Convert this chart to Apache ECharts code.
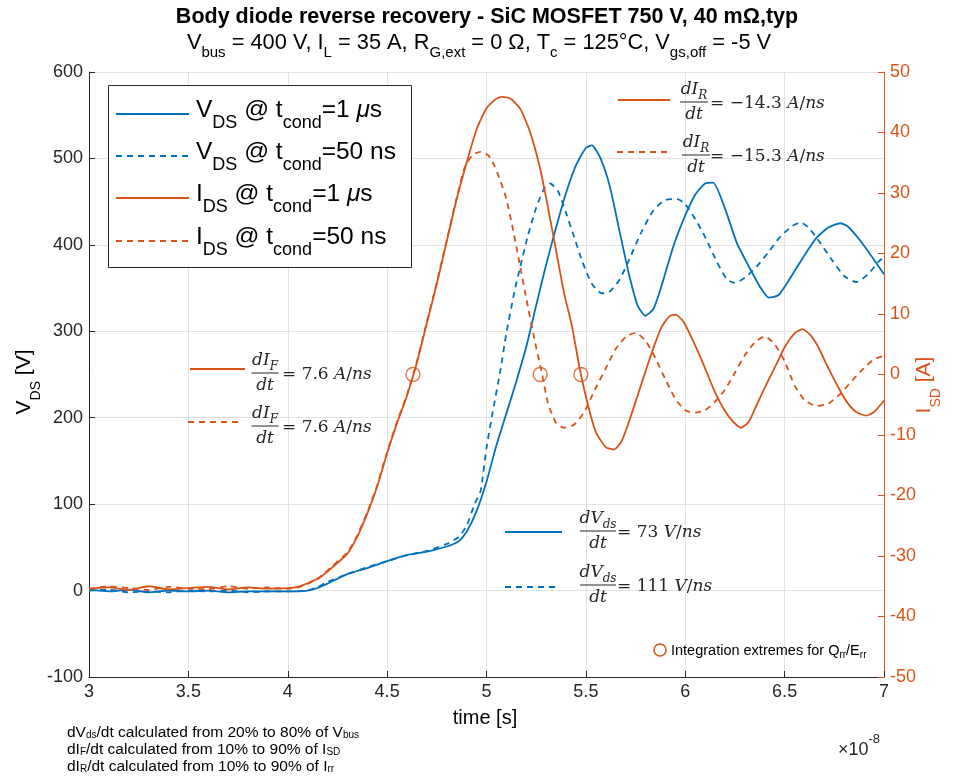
<!DOCTYPE html>
<html>
<head>
<meta charset="utf-8">
<script src="https://cdn.jsdelivr.net/npm/echarts@6/dist/echarts.min.js"></script>
<style>
  html, body { margin: 0; padding: 0; background: #fff; }
  #chart { width: 956px; height: 780px; }
</style>
</head>
<body>
<div id="chart"></div>
<script>
// time values are in units of 1e-8 s (axis shows x10^-8)
const tVdsLong = [3.0, 3.1, 3.2, 3.3, 3.4, 3.5, 3.6, 3.7, 3.8, 3.9, 4.0, 4.1, 4.15, 4.2, 4.3, 4.4, 4.5, 4.6, 4.7, 4.8, 4.86, 4.9, 4.95, 5.0, 5.05, 5.1, 5.15, 5.2, 5.25, 5.3, 5.35, 5.4, 5.45, 5.5, 5.53, 5.57, 5.62, 5.67, 5.72, 5.76, 5.8, 5.84, 5.88, 5.94, 6.0, 6.05, 6.1, 6.14, 6.2, 6.26, 6.32, 6.38, 6.42, 6.47, 6.54, 6.6, 6.66, 6.72, 6.78, 6.82, 6.88, 6.94, 7.0]
const vdsLong = [1, -1, 1, -2, 0, -1, 0, -2, -1, -1, -1, 0, 3, 8, 19, 26, 34, 41, 45, 51, 57, 68, 92, 126, 168, 205, 242, 282, 330, 377, 420, 460, 492, 512, 515, 502, 468, 415, 363, 330, 318, 326, 352, 398, 434, 458, 471, 472, 442, 402, 375, 350, 339, 342, 366, 388, 408, 420, 425, 421, 405, 386, 366]

const tVdsShort = [3.0, 3.1, 3.2, 3.3, 3.4, 3.5, 3.6, 3.7, 3.8, 3.9, 4.0, 4.1, 4.15, 4.2, 4.3, 4.4, 4.5, 4.6, 4.7, 4.8, 4.86, 4.9, 4.94, 4.97, 5.0, 5.03, 5.07, 5.1, 5.14, 5.17, 5.21, 5.25, 5.29, 5.32, 5.36, 5.4, 5.44, 5.48, 5.53, 5.58, 5.62, 5.67, 5.72, 5.78, 5.84, 5.9, 5.96, 6.0, 6.05, 6.1, 6.16, 6.21, 6.25, 6.3, 6.36, 6.42, 6.48, 6.54, 6.58, 6.62, 6.68, 6.74, 6.8, 6.86, 6.92, 6.97, 7.0]
const vdsShort = [0, 1, -2, -1, -2, 0, -1, 0, -2, -1, -1, 0, 4, 10, 19, 27, 34, 41, 46, 54, 62, 75, 100, 115, 165, 205, 255, 298, 345, 375, 412, 443, 465, 471, 462, 437, 410, 382, 355, 344, 346, 360, 384, 415, 440, 452, 453, 447, 430, 409, 380, 360, 356, 362, 375, 392, 410, 422, 426, 420, 402, 382, 364, 357, 366, 380, 386]

const tIdsLong = [3.0, 3.1, 3.2, 3.3, 3.4, 3.5, 3.6, 3.7, 3.8, 3.9, 4.0, 4.05, 4.1, 4.16, 4.22, 4.3, 4.35, 4.4, 4.45, 4.5, 4.55, 4.6, 4.65, 4.7, 4.75, 4.8, 4.85, 4.9, 4.95, 5.0, 5.05, 5.08, 5.12, 5.17, 5.22, 5.27, 5.31, 5.35, 5.39, 5.43, 5.47, 5.51, 5.55, 5.6, 5.64, 5.68, 5.72, 5.76, 5.8, 5.84, 5.88, 5.92, 5.95, 5.99, 6.04, 6.09, 6.14, 6.19, 6.24, 6.28, 6.32, 6.36, 6.41, 6.46, 6.5, 6.55, 6.59, 6.63, 6.67, 6.71, 6.76, 6.81, 6.86, 6.91, 6.95, 7.0]
const idsLong = [-35.4, -35.2, -35.6, -35, -35.5, -35.3, -35.1, -35.5, -35.2, -35.4, -35.3, -35.1, -34.5, -33.6, -32, -29.6, -26.8, -23, -18.5, -13, -8, -3.5, 2, 8.5, 15, 22, 29, 35, 40.5, 44, 45.6, 45.9, 45.6, 43.9, 40, 34, 27.5, 20.5, 13.5, 8, 0.8, -5, -9.5, -12, -12.4, -11, -7.5, -3.5, 0.5, 4.4, 7.8, 9.6, 9.9, 8.8, 5.5, 1.8, -2.2, -5.5, -7.8, -8.8, -7.8, -5, -1.5, 1.8, 4.5, 6.8, 7.5, 6.5, 4.5, 1.7, -1.5, -4.4, -6.2, -6.8, -6.2, -4.3]

const tIdsShort = [3.0, 3.1, 3.2, 3.3, 3.4, 3.5, 3.6, 3.7, 3.8, 3.9, 4.0, 4.05, 4.1, 4.16, 4.22, 4.3, 4.35, 4.4, 4.45, 4.5, 4.55, 4.6, 4.65, 4.7, 4.75, 4.8, 4.85, 4.89, 4.93, 4.97, 5.01, 5.04, 5.07, 5.1, 5.13, 5.16, 5.2, 5.24, 5.28, 5.31, 5.35, 5.39, 5.44, 5.49, 5.55, 5.6, 5.65, 5.7, 5.75, 5.8, 5.85, 5.9, 5.95, 6.0, 6.05, 6.1, 6.15, 6.2, 6.25, 6.3, 6.35, 6.4, 6.45, 6.5, 6.55, 6.6, 6.66, 6.72, 6.78, 6.84, 6.9, 6.95, 7.0]
const idsShort = [-35.5, -35, -35.3, -35.6, -35.1, -35.4, -35.5, -35, -35.4, -35.2, -35.4, -35.2, -34.6, -33.5, -31.8, -29.4, -26.6, -22.8, -18.3, -12.8, -7.8, -3.3, 2.2, 8.7, 15.2, 22.2, 29.2, 34.2, 36.3, 36.8, 36.2, 34.5, 32, 29, 24.5, 19.5, 12.6, 6, 0, -4.8, -8, -8.8, -8.3, -6.3, -2.2, 1, 4.2, 6.2, 6.9, 5.6, 2.7, -0.8, -4, -5.9, -6.3, -5.9, -4.5, -2.5, 0.3, 3.2, 5.3, 6.3, 5, 2.2, -1.8, -4.2, -5.2, -4.8, -3.2, -1, 1.1, 2.5, 3.1]

// integration extremes for Qrr / Err
const tMarks = [4.63, 5.27, 5.475]
const iMarks = [0, 0, 0]

const xTicks = { min: 3, max: 7, step: 0.5 }
const vTicks = { min: -100, max: 600, step: 100 }
const iTicks = { min: -50, max: 50, step: 10 }

const zip = (t, v) => t.map((x, i) => [x, v[i]])

const BLUE = '#0072BD'
const ORANGE = '#D95319'
const INK = '#262626'
const SANS = 'Liberation Sans, Arial, sans-serif'
const SERIF = 'DejaVu Serif, serif'

// rich text styles: m main, i italic, s/is subscript (dropped by `drop` px)
function rs(fs, family, color, drop, scale) {
  const sf = Math.round(fs * (scale || 0.68))
  const pad = Math.max(0, Math.round(drop + fs / 2 - sf / 2))
  const base = { fontFamily: family, fill: color, verticalAlign: 'top' }
  return {
    m: Object.assign({}, base, { fontSize: fs }),
    b: Object.assign({}, base, { fontSize: fs, fontWeight: 'bold' }),
    i: Object.assign({}, base, { fontSize: fs, fontStyle: 'italic' }),
    s: Object.assign({}, base, { fontSize: sf, padding: [pad, 0, 0, 0] }),
    is: Object.assign({}, base, { fontSize: sf, fontStyle: 'italic', padding: [pad, 0, 0, 0] })
  }
}

function txt(x, yMid, text, fs, family, color, drop, align, extra) {
  return Object.assign({
    type: 'text', x: x, y: yMid - fs / 2, z: 100,
    style: {
      text: text, rich: rs(fs, family, color, drop, extra && extra.scale),
      align: align || 'left', verticalAlign: 'top',
      fontSize: fs, fontFamily: family, fill: color
    }
  }, extra && extra.el || {})
}

function seg(x1, y1, x2, y2, color, dashed, w) {
  return {
    type: 'line', z: 100, shape: { x1: x1, y1: y1, x2: x2, y2: y2 },
    style: { stroke: color, lineWidth: w || 1.8, lineDash: dashed ? [6, 5] : null }
  }
}

// slope annotation: sample line + fraction + right hand side
function frac(o) {
  return [
    seg(o.x0, o.ly, o.x1, o.ly, o.color, o.dashed),
    txt(o.cx, o.y - 12, '{i|d' + o.num + '}{is|' + o.sub + '}', 17, SERIF, INK, 5, 'center'),
    seg(o.cx - o.bw / 2, o.y, o.cx + o.bw / 2, o.y, INK, false, 1),
    txt(o.cx, o.y + 13, '{i|dt}', 17, SERIF, INK, 0, 'center'),
    txt(o.rx, o.y + 2, o.rhs, 17, SERIF, INK, 0, 'left')
  ]
}

const legendRows = [
  { y: 114, color: BLUE, dashed: false, text: '{m|V}{s|DS}{m| @ t}{s|cond}{m|=1 }{i|μ}{m|s}' },
  { y: 156, color: BLUE, dashed: true, text: '{m|V}{s|DS}{m| @ t}{s|cond}{m|=50 ns}' },
  { y: 198, color: ORANGE, dashed: false, text: '{m|I}{s|DS}{m| @ t}{s|cond}{m|=1 }{i|μ}{m|s}' },
  { y: 241, color: ORANGE, dashed: true, text: '{m|I}{s|DS}{m| @ t}{s|cond}{m|=50 ns}' }
]

const graphics = []
graphics.push(txt(487, 17, '{b|Body diode reverse recovery - SiC MOSFET 750 V, 40 mΩ,typ}', 21.5, SANS, '#000', 0, 'center'))
graphics.push(txt(479, 43, '{m|V}{s|bus}{m| = 400 V, I}{s|L}{m| = 35 A, R}{s|G,ext}{m| = 0 Ω, T}{s|c}{m| = 125°C, V}{s|gs,off}{m| = -5 V}', 21.8, SANS, '#000', 10, 'center'))

// legend box
graphics.push({ type: 'rect', z: 90, shape: { x: 108.5, y: 85.5, width: 303, height: 182 }, style: { fill: '#fff', stroke: INK, lineWidth: 1 } })
legendRows.forEach(r => {
  graphics.push(seg(116, r.y, 189, r.y, r.color, r.dashed))
  graphics.push(txt(196, r.y - 4, r.text, 24.5, SANS, '#000', 13, 'left', { scale: 0.72 }))
})

frac({ x0: 618, x1: 670, ly: 100, y: 102, cx: 694, bw: 28, rx: 710, color: ORANGE, num: 'I', sub: 'R', rhs: '{m|= −14.3 }{i|A}{m|/}{i|ns}' }).forEach(e => graphics.push(e))
frac({ x0: 617, x1: 670, ly: 152, y: 155, cx: 696, bw: 28, rx: 710, color: ORANGE, dashed: true, num: 'I', sub: 'R', rhs: '{m|= −15.3 }{i|A}{m|/}{i|ns}' }).forEach(e => graphics.push(e))
frac({ x0: 190, x1: 245, ly: 369, y: 373, cx: 265, bw: 27, rx: 282, color: ORANGE, num: 'I', sub: 'F', rhs: '{m|= 7.6 }{i|A}{m|/}{i|ns}' }).forEach(e => graphics.push(e))
frac({ x0: 188, x1: 243, ly: 422, y: 426, cx: 265, bw: 27, rx: 282, color: ORANGE, dashed: true, num: 'I', sub: 'F', rhs: '{m|= 7.6 }{i|A}{m|/}{i|ns}' }).forEach(e => graphics.push(e))
frac({ x0: 505, x1: 562, ly: 532, y: 531, cx: 598, bw: 36, rx: 617, color: BLUE, num: 'V', sub: 'ds', rhs: '{m|= 73 }{i|V}{m|/}{i|ns}' }).forEach(e => graphics.push(e))
frac({ x0: 505, x1: 560, ly: 587, y: 585, cx: 598, bw: 36, rx: 617, color: BLUE, dashed: true, num: 'V', sub: 'ds', rhs: '{m|= 111 }{i|V}{m|/}{i|ns}' }).forEach(e => graphics.push(e))

// marker legend
graphics.push({ type: 'circle', z: 100, shape: { cx: 660, cy: 650, r: 6 }, style: { fill: 'none', stroke: ORANGE, lineWidth: 1.5 } })
graphics.push(txt(671, 651, '{m|Integration extremes for Q}{s|rr}{m|/E}{s|rr}', 14.5, SANS, '#000', 4))

// axis names
graphics.push(txt(0, 0, '{m|V}{s|DS}{m| [V]}', 21, SANS, '#000', 11, 'center', { el: { x: 14, y: 382, rotation: Math.PI / 2 } }))
graphics.push(txt(0, 0, '{m|I}{s|SD}{m| [A]}', 21, SANS, ORANGE, 11, 'center', { el: { x: 914, y: 385, rotation: Math.PI / 2 } }))
graphics.push(txt(485, 718, '{m|time [s]}', 20, SANS, '#000', 0, 'center'))
graphics.push({
  type: 'text', z: 100, x: 880, y: 733,
  style: {
    text: '{m|×10}{p|-8}', align: 'right', verticalAlign: 'top',
    rich: {
      m: { fontSize: 18, fontFamily: SANS, fill: INK, verticalAlign: 'top', padding: [8, 0, 0, 0] },
      p: { fontSize: 13, fontFamily: SANS, fill: INK, verticalAlign: 'top' }
    }
  }
})

// footnotes
graphics.push(txt(67, 732, '{m|dV}{s|ds}{m|/dt calculated from 20% to 80% of V}{s|bus}', 15.5, SANS, '#000', 3, 'left', { scale: 0.66 }))
graphics.push(txt(67, 749, '{m|dI}{s|F}{m|/dt calculated from 10% to 90% of I}{s|SD}', 15.5, SANS, '#000', 3, 'left', { scale: 0.66 }))
graphics.push(txt(67, 766, '{m|dI}{s|R}{m|/dt calculated from 10% to 90% of I}{s|rr}', 15.5, SANS, '#000', 3, 'left', { scale: 0.66 }))

const chart = echarts.init(document.getElementById('chart'))

const lineSeries = (name, data, color, dashed, yIdx) => ({
  name: name, type: 'line', data: data, yAxisIndex: yIdx,
  symbol: 'none', smooth: 0.2, animation: false,
  lineStyle: { color: color, width: 1.8, type: dashed ? [6, 5] : 'solid' }
})

chart.setOption({
  animation: false,
  backgroundColor: '#fff',
  grid: { left: 89, right: 72, top: 72, bottom: 103 },
  xAxis: {
    type: 'value', min: xTicks.min, max: xTicks.max, interval: xTicks.step,
    axisLine: { onZero: false, lineStyle: { color: INK } },
    axisTick: { inside: true, length: 6, lineStyle: { color: INK } },
    axisLabel: { fontSize: 18, fontFamily: SANS, color: INK, margin: 6 },
    splitLine: { show: true, lineStyle: { color: '#e3e3e3' } }
  },
  yAxis: [
    {
      type: 'value', position: 'left', min: vTicks.min, max: vTicks.max, interval: vTicks.step,
      axisLine: { show: true, onZero: false, lineStyle: { color: INK } },
      axisTick: { show: true, inside: true, length: 6, lineStyle: { color: INK } },
      axisLabel: { fontSize: 18, fontFamily: SANS, color: INK, margin: 6 },
      splitLine: { show: true, lineStyle: { color: '#e3e3e3' } }
    },
    {
      type: 'value', position: 'right', min: iTicks.min, max: iTicks.max, interval: iTicks.step,
      axisLine: { show: true, onZero: false, lineStyle: { color: ORANGE } },
      axisTick: { show: true, inside: true, length: 6, lineStyle: { color: ORANGE } },
      axisLabel: { fontSize: 18, fontFamily: SANS, color: ORANGE, margin: 6 },
      splitLine: { show: false }
    }
  ],
  series: [
    lineSeries('VDS @ tcond=1 µs', zip(tVdsLong, vdsLong), BLUE, false, 0),
    lineSeries('VDS @ tcond=50 ns', zip(tVdsShort, vdsShort), BLUE, true, 0),
    lineSeries('IDS @ tcond=1 µs', zip(tIdsLong, idsLong), ORANGE, false, 1),
    lineSeries('IDS @ tcond=50 ns', zip(tIdsShort, idsShort), ORANGE, true, 1),
    {
      name: 'Integration extremes', type: 'scatter', yAxisIndex: 1, z: 5,
      data: zip(tMarks, iMarks), symbol: 'circle', symbolSize: 14,
      itemStyle: { color: 'rgba(0,0,0,0)', borderColor: ORANGE, borderWidth: 1.4 }
    }
  ],
  graphic: graphics
})
</script>
</body>
</html>
